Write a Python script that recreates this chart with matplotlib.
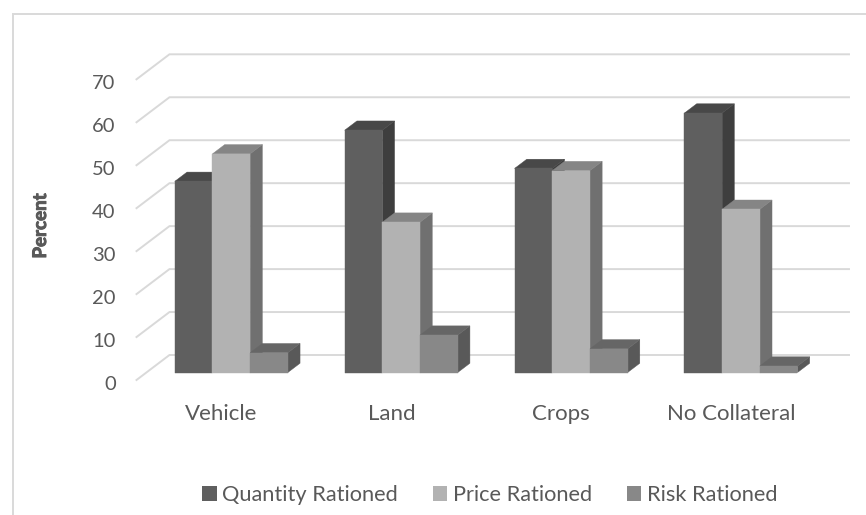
import matplotlib
matplotlib.use("Agg")
import matplotlib.pyplot as plt
import matplotlib.patheffects as pe
from matplotlib.lines import Line2D
from matplotlib.patches import Patch, Polygon
from matplotlib.transforms import ScaledTranslation

plt.rcParams["font.family"] = ["Lato", "DejaVu Sans"]

categories = ["Vehicle", "Land", "Crops", "No Collateral"]
quantity = [44.5, 56.4, 47.5, 60.4]
price = [50.9, 35, 47, 38]
risk = [4.6, 8.7, 5.5, 1.5]
y_ticks = [0, 10, 20, 30, 40, 50, 60, 70]

names = ["Quantity Rationed", "Price Rationed", "Risk Rationed"]
front_colors = ["#5f5f5f", "#b2b2b2", "#888888"]
top_colors = ["#484848", "#858585", "#666666"]
side_colors = ["#3e3e3e", "#707070", "#595959"]

W, H = 866, 515
TEXT = "#595959"
GRID = "#d9d9d9"

# oblique depth of the floor, in pixels
DEPTH_X = 33
DEPTH_Y = 25
PX_PER_GROUP = 170
PX_PER_UNIT = 4.296
BAR_W = 37.7 / PX_PER_GROUP
Z_FRONT = 0.30
Z_BACK = 0.67


def project(x, y, z):
    return x + z * DEPTH_X / PX_PER_GROUP, y + z * DEPTH_Y / PX_PER_UNIT


def draw_bar(ax, left, value, i):
    right = left + BAR_W
    a = project(left, 0, Z_FRONT)
    b = project(right, 0, Z_FRONT)
    c = project(right, value, Z_FRONT)
    d = project(left, value, Z_FRONT)
    e = project(left, value, Z_BACK)
    f = project(right, value, Z_BACK)
    g = project(right, 0, Z_BACK)
    ax.add_patch(Polygon([b, c, f, g], fc=side_colors[i], ec=side_colors[i], lw=0.3, zorder=3))
    ax.add_patch(Polygon([d, c, f, e], fc=top_colors[i], ec=top_colors[i], lw=0.3, zorder=3))
    ax.add_patch(Polygon([a, b, c, d], fc=front_colors[i], ec=front_colors[i], lw=0.3, zorder=3))


fig = plt.figure(figsize=(W / 100, H / 100), dpi=100)
ax = fig.add_axes([136.5 / W, 1 - 380 / H, (849 - 136.5) / W, (380 - 54.3) / H])
ax.set_xlim(-0.5, 3.5 + DEPTH_X / PX_PER_GROUP)
ax.set_ylim(0, 70 + DEPTH_Y / PX_PER_UNIT)

# wall and floor gridlines
for v in y_ticks:
    p0 = project(-0.5, v, 0)
    p1 = project(-0.5, v, 1)
    p2 = project(3.5, v, 1)
    ax.plot([p0[0], p1[0], p2[0]], [p0[1], p1[1], p2[1]], color=GRID, lw=1.4,
            solid_joinstyle="miter", zorder=1, clip_on=False)

series = [quantity, price, risk]
for g in range(len(categories)):
    for i, values in enumerate(series):
        left = g - 1.5 * BAR_W + i * BAR_W
        draw_bar(ax, left, values[g], i)

ax.set_xticks(range(len(categories)))
ax.set_xticklabels(categories)
ax.set_yticks(y_ticks)
ax.tick_params(axis="x", length=0, pad=17, labelsize=16, labelcolor=TEXT)
ax.tick_params(axis="y", length=0, pad=15, labelsize=14.5, labelcolor=TEXT)
for t in ax.get_yticklabels():
    t.set_transform(t.get_transform() + ScaledTranslation(0, -2 / 72, fig.dpi_scale_trans))
for s in ax.spines.values():
    s.set_visible(False)
ax.patch.set_alpha(0)

# Lato bold is lighter than the original face, so thicken it a little
fig.text(40.5 / W, 1 - 226 / H, "Percent", rotation=90, ha="center", va="center",
         fontsize=13.5, fontweight="bold", color=TEXT,
         path_effects=[pe.withStroke(linewidth=0.7, foreground=TEXT)])

handles = [Patch(fc=c, ec="none") for c in front_colors]
fig.legend(handles, names, loc="center", bbox_to_anchor=(490 / W, 1 - 495 / H), ncol=3,
           frameon=False, fontsize=15.7, labelcolor=TEXT, handlelength=0.65, handleheight=0.65,
           handletextpad=0.27, columnspacing=1.6)

# chart frame, open at the bottom and on the right
fig.add_artist(Line2D([12.5 / W, 12.5 / W, 1], [0, 1 - 14.5 / H, 1 - 14.5 / H],
                      color=GRID, lw=1.4, solid_joinstyle="miter"))

fig.savefig("out.png", dpi=100)
